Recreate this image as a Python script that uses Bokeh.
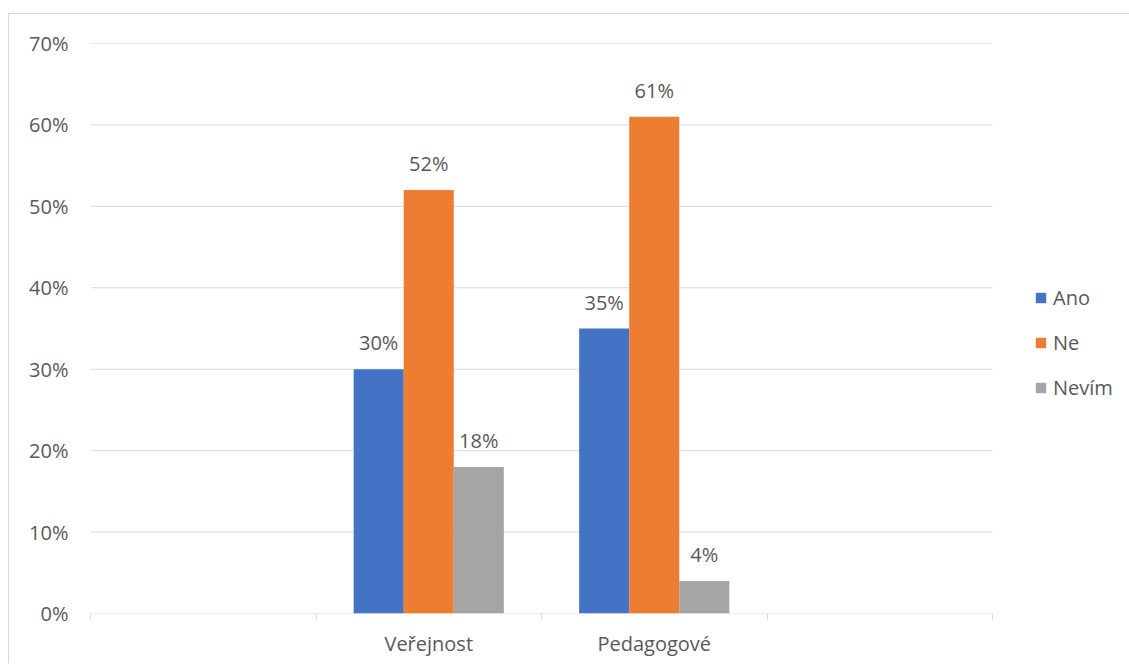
from bokeh.plotting import figure
from bokeh.models import (ColumnDataSource, FixedTicker, NumeralTickFormatter, Legend, LegendItem,
                          LabelSet, Range1d)
from bokeh.core.properties import value
from bokeh.embed import file_html
from bokeh.resources import INLINE

# data
categories = ["", "Veřejnost", "Pedagogové", ""]
series = ["Ano", "Ne", "Nevím"]
ano = [None, 0.30, 0.35, None]
ne = [None, 0.52, 0.61, None]
nevim = [None, 0.18, 0.04, None]
y_ticks = [0, 0.1, 0.2, 0.3, 0.4, 0.5, 0.6, 0.7]
colors = ["#4472C4", "#ED7D31", "#A5A5A5"]

FONT = "Open Sans"
FS = "20px"
TXT = "#595959"
GRID = "#D9D9D9"

n = len(categories)
PLOT_W = 902          # pixel width of the category area
FRAME_W = 1030        # frame extends right to host the legend
x_end = n * FRAME_W / PLOT_W

p = figure(frame_width=FRAME_W, frame_height=570, output_backend="svg", toolbar_location=None,
           x_range=Range1d(0, x_end), y_range=Range1d(0, 0.7),
           min_border_left=81, min_border_right=9, min_border_top=29, min_border_bottom=50)
p.margin = (13, 0, 0, 8)
p.styles = {"border-left": "1px solid #D9D9D9", "border-top": "1px solid #D9D9D9"}
p.outline_line_color = None
p.background_fill_color = "white"
p.border_fill_color = "white"

# gridlines over the category area only
p.segment(x0=[0] * len(y_ticks), x1=[n] * len(y_ticks), y0=y_ticks, y1=y_ticks,
          line_color=GRID, line_width=1)

bw = 0.222
offsets = [-bw, 0, bw]
vals = [ano, ne, nevim]
renderers = []
for s, v, c, off in zip(series, vals, colors, offsets):
    xs, tops, labels = [], [], []
    for i, val in enumerate(v):
        if val is None:
            continue
        xs.append(i + 0.5 + off)
        tops.append(val)
        labels.append(f"{round(val * 100)}%")
    src = ColumnDataSource(dict(x=xs, top=tops, label=labels))
    r = p.vbar(x="x", top="top", bottom=0, width=bw, source=src, fill_color=c, line_color=None)
    renderers.append((s, r))
    ls = LabelSet(x="x", y="top", text="label", source=src, text_align="center", text_baseline="bottom",
                  y_offset=13, text_font=value(FONT), text_font_size=FS, text_color=TXT)
    p.add_layout(ls)

# axes
xa = p.xaxis[0]
xa.ticker = FixedTicker(ticks=[i + 0.5 for i in range(n) if categories[i]],
                        minor_ticks=list(range(n + 1)))
xa.major_label_overrides = {i + 0.5: categories[i] for i in range(n) if categories[i]}
xa.major_tick_line_color = None
xa.major_tick_out = 0
xa.major_tick_in = 0
xa.minor_tick_line_color = GRID
xa.minor_tick_out = 6
xa.minor_tick_in = 0
xa.axis_line_color = None
xa.major_label_text_font = FONT
xa.major_label_text_font_size = FS
xa.major_label_text_color = TXT
xa.major_label_standoff = 10

ya = p.yaxis[0]
ya.ticker = FixedTicker(ticks=y_ticks)
ya.formatter = NumeralTickFormatter(format="0%")
ya.axis_line_color = None
ya.major_tick_line_color = None
ya.minor_tick_line_color = None
ya.major_tick_out = 0
ya.major_label_text_font = FONT
ya.major_label_text_font_size = FS
ya.major_label_text_color = TXT
ya.major_label_standoff = 22

p.xgrid.grid_line_color = None
p.ygrid.grid_line_color = None

legend = Legend(items=[LegendItem(label=s, renderers=[r]) for s, r in renderers],
                location=(944, 212), orientation="vertical",
                glyph_width=13, glyph_height=13, label_height=20, spacing=18,
                label_standoff=6, padding=0, margin=0,
                border_line_color=None, background_fill_alpha=0,
                label_text_font=FONT, label_text_font_size=FS, label_text_color=TXT)
p.add_layout(legend)

open("out.html", "w").write(file_html(p, INLINE))
